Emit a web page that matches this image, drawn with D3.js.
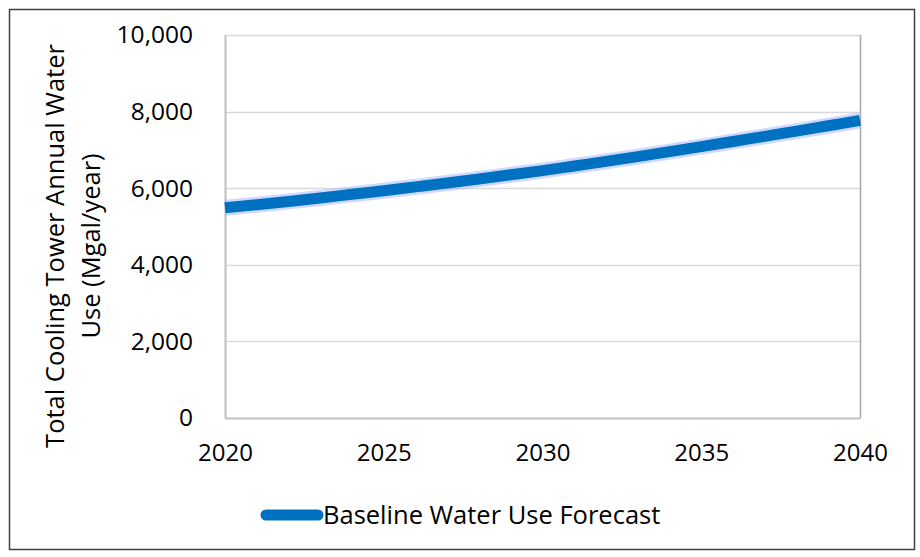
<!DOCTYPE html>
<html>
<head>
<meta charset="utf-8">
<script src="https://cdn.jsdelivr.net/npm/d3@7"></script>
<style>
  html, body { margin: 0; padding: 0; background: #fff; }
  svg { display: block; font-family: "Open Sans", Lato, "Liberation Sans", sans-serif; }
</style>
</head>
<body>
<svg id="chart" width="920" height="557"></svg>
<script>
// Annual cooling tower water use forecast (Mgal/year)
const years = [2020, 2021, 2022, 2023, 2024, 2025, 2026, 2027, 2028, 2029, 2030,
               2031, 2032, 2033, 2034, 2035, 2036, 2037, 2038, 2039, 2040];
const baselineUse = [5490, 5570, 5655, 5745, 5840, 5935, 6035, 6135, 6240, 6350, 6460,
                     6580, 6700, 6825, 6955, 7085, 7220, 7355, 7490, 7630, 7770];
const xTicks = [2020, 2025, 2030, 2035, 2040];
const yTicks = [0, 2000, 4000, 6000, 8000, 10000];
const seriesName = "Baseline Water Use Forecast";
const yTitle = ["Total Cooling Tower Annual Water", "Use (Mgal/year)"];

const svg = d3.select("#chart");
const W = 920, H = 557;
const m = { left: 225, right: 60, top: 35, bottom: 139 };
const FONT = "'Open Sans', Lato, sans-serif";

// Outer chart frame
svg.append("rect")
  .attr("x", 9.5).attr("y", 9.5).attr("width", 905).attr("height", 540)
  .attr("fill", "#fff").attr("stroke", "#404040").attr("stroke-width", 1.5);

const x = d3.scaleLinear().domain([2020, 2040]).range([m.left, W - m.right]);
const y = d3.scaleLinear().domain([0, 10000]).range([H - m.bottom, m.top]);

// Horizontal gridlines
svg.append("g")
  .selectAll("line").data(yTicks.filter(d => d > 0)).join("line")
  .attr("x1", x(2020)).attr("x2", x(2040))
  .attr("y1", d => Math.round(y(d)) + 0.5).attr("y2", d => Math.round(y(d)) + 0.5)
  .attr("stroke", "#d9d9d9").attr("stroke-width", 1.5);

// Plot-area right border
svg.append("line")
  .attr("x1", x(2040) + 0.5).attr("x2", x(2040) + 0.5)
  .attr("y1", y(10000)).attr("y2", y(0))
  .attr("stroke", "#a6a6a6").attr("stroke-width", 1.5);

// Y axis
const yAxis = svg.append("g")
  .attr("transform", `translate(${x(2020)},0)`)
  .call(d3.axisLeft(y).tickValues(yTicks).tickSize(0).tickPadding(32)
    .tickFormat(d3.format(",")));
yAxis.select(".domain").attr("stroke", "#bfbfbf").attr("stroke-width", 2);
yAxis.selectAll("text").attr("font-size", 24.5).attr("fill", "#000")
  .attr("font-family", FONT);

// X axis
const xAxis = svg.append("g")
  .attr("transform", `translate(0,${y(0)})`)
  .call(d3.axisBottom(x).tickValues(xTicks).tickSize(0).tickPadding(26)
    .tickFormat(d3.format("d")));
xAxis.select(".domain").attr("stroke", "#bfbfbf").attr("stroke-width", 2);
xAxis.selectAll("text").attr("font-size", 24).attr("fill", "#000")
  .attr("font-family", FONT);

// Y axis title (two lines, rotated)
const ty = svg.append("text")
  .attr("transform", `translate(64,246) rotate(-90)`)
  .attr("text-anchor", "middle").attr("font-size", 25.5).attr("fill", "#000");
yTitle.forEach((t, i) => ty.append("tspan").attr("x", 0).attr("dy", i === 0 ? 0 : 36).text(t));

// Forecast line with soft glow
const line = d3.line().x((d, i) => x(years[i])).y(d => y(d)).curve(d3.curveMonotoneX);
svg.append("path").datum(baselineUse).attr("d", line)
  .attr("fill", "none").attr("stroke", "#9fb4ff").attr("stroke-opacity", 0.5)
  .attr("stroke-width", 16);
svg.append("path").datum(baselineUse).attr("d", line)
  .attr("fill", "none").attr("stroke", "#0070c0").attr("stroke-width", 11);

// Legend
const lg = svg.append("g").attr("transform", "translate(0,515)");
lg.append("line").attr("x1", 266).attr("x2", 318).attr("y1", 0).attr("y2", 0)
  .attr("stroke", "#0070c0").attr("stroke-width", 11).attr("stroke-linecap", "round");
lg.append("text").attr("x", 323).attr("y", 9).attr("font-size", 25.5).attr("fill", "#000")
  .text(seriesName);
</script>
</body>
</html>
